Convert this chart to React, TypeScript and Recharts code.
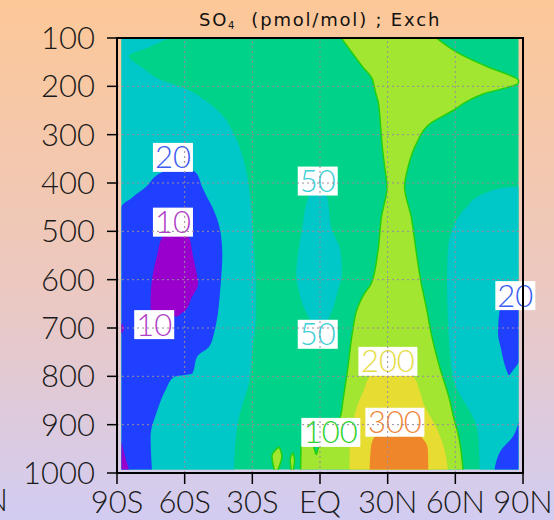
import React from "react";
import {
  ComposedChart,
  Area,
  XAxis,
  YAxis,
  ReferenceLine,
  ReferenceDot,
  ReferenceArea,
} from "recharts";

const FONT = 'Lato, "Liberation Sans", Arial, sans-serif';
const TITLE_FONT = '"DejaVu Sans", "Liberation Sans", sans-serif';

// contour fill colours (SO4 mixing ratio bands)
const PURPLE = "#9a00cc"; // < 10
const BLUE = "#2040ff"; // 10-20
const CYAN = "#00c8c8"; // 20-50
const GREEN = "#00d28a"; // 50-100
const YGREEN = "#a2e632"; // 100-200
const YELLOW = "#e6dc32"; // 200-300
const ORANGE = "#f0862a"; // > 300
const LINE100 = "#22d010";

// axes
const latTicks = [-90, -60, -30, 0, 30, 60, 90];
const latLabels = ["90S", "60S", "30S", "EQ", "30N", "60N", "90N"];
const presTicks = [100, 200, 300, 400, 500, 600, 700, 800, 900, 1000];
const latGrid = [-60, -30, 0, 30, 60];
const presGrid = [200, 300, 400, 500, 600, 700, 800, 900];

// each band: pressure (hPa) rows with west / east edge latitude
const field = [
  { p: 100, w: -88, e: 88 },
  { p: 993, w: -88, e: 88 },
];

const cyanWest = [
  { p: 100, w: -88, e: -67 },
  { p: 119, w: -88, e: -75.8 },
  { p: 137, w: -88, e: -84.7 },
  { p: 161, w: -88, e: -78.8 },
  { p: 188, w: -88, e: -69.9 },
  { p: 205, w: -88, e: -59.6 },
  { p: 230, w: -88, e: -50.7 },
  { p: 264, w: -88, e: -42.6 },
  { p: 299, w: -88, e: -38.1 },
  { p: 368, w: -88, e: -33 },
  { p: 437, w: -88, e: -30.8 },
  { p: 505, w: -88, e: -29.7 },
  { p: 539, w: -88, e: -29.3 },
  { p: 608, w: -88, e: -28.5 },
  { p: 677, w: -88, e: -28.5 },
  { p: 746, w: -88, e: -30 },
  { p: 815, w: -88, e: -31.5 },
  { p: 849, w: -88, e: -33.7 },
  { p: 884, w: -88, e: -35.9 },
  { p: 918, w: -88, e: -37.1 },
  { p: 993, w: -88, e: -38.1 },
];

const blueWest = [
  { p: 366, w: -63, e: -62 },
  { p: 378, w: -70, e: -55.2 },
  { p: 409, w: -77.3, e: -52.2 },
  { p: 430, w: -83.2, e: -50 },
  { p: 450, w: -88, e: -47.7 },
  { p: 505, w: -88, e: -44 },
  { p: 547, w: -88, e: -43.3 },
  { p: 608, w: -88, e: -44 },
  { p: 711, w: -88, e: -47 },
  { p: 739, w: -88, e: -49.2 },
  { p: 759, w: -88, e: -54.4 },
  { p: 794, w: -88, e: -56.6 },
  { p: 801, w: -88, e: -64.7 },
  { p: 828, w: -88, e: -68.4 },
  { p: 870, w: -88, e: -72.1 },
  { p: 925, w: -88, e: -75.1 },
  { p: 993, w: -88, e: -74.5 },
];

const purpleWest = [
  { p: 492, w: -64.5, e: -63.5 },
  { p: 512, w: -70, e: -58 },
  { p: 545, w: -72, e: -56.6 },
  { p: 594, w: -74.3, e: -54.4 },
  { p: 607, w: -74.7, e: -54 },
  { p: 642, w: -75.1, e: -57.4 },
  { p: 660, w: -75.1, e: -59 },
  { p: 668, w: -73, e: -61 },
  { p: 676, w: -66, e: -63 },
];

const purpleEdge = [
  { p: 690, w: -88, e: -88 },
  { p: 700, w: -88, e: -86.8 },
  { p: 712, w: -88, e: -88 },
];

const purpleCorner = [
  { p: 935, w: -88, e: -88 },
  { p: 960, w: -88, e: -86.8 },
  { p: 993, w: -88, e: -84.7 },
];

const cyanEq = [
  { p: 405, w: -2, e: -1 },
  { p: 428, w: -5, e: 3 },
  { p: 497, w: -8, e: 5.3 },
  { p: 539, w: -9.5, e: 9 },
  { p: 587, w: -10.5, e: 9.7 },
  { p: 621, w: -9.5, e: 8 },
  { p: 656, w: -7.3, e: 6 },
  { p: 690, w: -3.5, e: 2.5 },
  { p: 705, w: -1.5, e: -0.5 },
];

const cyanEast = [
  { p: 407, w: 88, e: 88 },
  { p: 409, w: 83, e: 88 },
  { p: 423, w: 72.3, e: 88 },
  { p: 450, w: 64.9, e: 88 },
  { p: 492, w: 59, e: 88 },
  { p: 540, w: 56.7, e: 88 },
  { p: 608, w: 56.3, e: 88 },
  { p: 677, w: 56.7, e: 88 },
  { p: 746, w: 57.5, e: 88 },
  { p: 815, w: 59.7, e: 88 },
  { p: 849, w: 63.4, e: 88 },
  { p: 884, w: 67.8, e: 88 },
  { p: 918, w: 70, e: 88 },
  { p: 993, w: 70.8, e: 88 },
];

const blueEast = [
  { p: 630, w: 86, e: 88 },
  { p: 663, w: 79.6, e: 88 },
  { p: 711, w: 78.9, e: 88 },
  { p: 746, w: 80.4, e: 88 },
  { p: 770, w: 81.5, e: 88 },
  { p: 785, w: 82.5, e: 86 },
  { p: 797, w: 83.5, e: 84 },
];

const blueSE = [
  { p: 894, w: 88, e: 88 },
  { p: 925, w: 85.5, e: 88 },
  { p: 952, w: 80.4, e: 88 },
  { p: 993, w: 77.4, e: 88 },
];

const yGreenMain = [
  { p: 100, w: 9.4, e: 51.6 },
  { p: 133, w: 14.6, e: 62 },
  { p: 161, w: 19.1, e: 75 },
  { p: 181, w: 22.7, e: 86 },
  { p: 187, w: 23.3, e: 88 },
  { p: 192, w: 23.6, e: 88 },
  { p: 216, w: 24.8, e: 72.3 },
  { p: 230, w: 25.7, e: 65.6 },
  { p: 250, w: 26.3, e: 59 },
  { p: 278, w: 26.8, e: 48.6 },
  { p: 319, w: 27.5, e: 42.7 },
  { p: 368, w: 28.7, e: 39 },
  { p: 408, w: 29.7, e: 37.5 },
  { p: 471, w: 27.2, e: 40.5 },
  { p: 540, w: 25.7, e: 42.6 },
  { p: 608, w: 22.7, e: 44.9 },
  { p: 628, w: 19.8, e: 45.8 },
  { p: 656, w: 16.8, e: 47.1 },
  { p: 711, w: 14.3, e: 49.3 },
  { p: 780, w: 12.4, e: 53 },
  { p: 849, w: 10.2, e: 57.5 },
  { p: 884, w: 9, e: 59.2 },
  { p: 918, w: 0, e: 61.2 },
  { p: 946, w: -8.4, e: 62.3 },
  { p: 993, w: -8.6, e: 63.4 },
];

const yGreenSpikeA = [
  { p: 946, w: -18.3, e: -18.1 },
  { p: 965, w: -21.3, e: -16.9 },
  { p: 993, w: -20.3, e: -18.6 },
];

const yGreenSpikeB = [
  { p: 958, w: -12.1, e: -12 },
  { p: 972, w: -13.2, e: -11.3 },
  { p: 993, w: -12.8, e: -11.8 },
];

const greenSliver = [
  { p: 946, w: -2.8, e: -0.6 },
  { p: 955, w: -2.2, e: -1.2 },
  { p: 962, w: -1.7, e: -1.6 },
];

const yellowCore = [
  { p: 770, w: 30, e: 32 },
  { p: 801, w: 22, e: 41.5 },
  { p: 828, w: 19.5, e: 44 },
  { p: 863, w: 16.4, e: 46.5 },
  { p: 900, w: 14.4, e: 51 },
  { p: 952, w: 13.1, e: 55.2 },
  { p: 993, w: 13.1, e: 56.7 },
];

const orangeCore = [
  { p: 895, w: 33, e: 35 },
  { p: 926, w: 24, e: 45 },
  { p: 950, w: 22.5, e: 47.8 },
  { p: 993, w: 22, e: 48 },
];

// contour labels
const labels = [
  { lat: -65.2, p: 347, text: "20", color: "#3a5cf0" },
  { lat: -65.2, p: 481, text: "10", color: "#b040c8" },
  { lat: -73.5, p: 693, text: "10", color: "#b040c8" },
  { lat: -1, p: 396, text: "50", color: "#3ccfd6" },
  { lat: -1, p: 713, text: "50", color: "#3ccfd6" },
  { lat: 30.1, p: 769, text: "200", color: "#e6dc46" },
  { lat: 33.2, p: 895, text: "300", color: "#f0883c" },
  { lat: 4.8, p: 916, text: "100", color: "#2ed22e" },
  { lat: 86.6, p: 633, text: "20", color: "#3a5cf0" },
];

const bands = [
  { data: field, fill: GREEN },
  { data: cyanWest, fill: CYAN },
  { data: blueWest, fill: BLUE },
  { data: purpleWest, fill: PURPLE },
  { data: purpleEdge, fill: PURPLE },
  { data: purpleCorner, fill: PURPLE },
  { data: cyanEq, fill: CYAN },
  { data: cyanEast, fill: CYAN },
  { data: blueEast, fill: BLUE },
  { data: blueSE, fill: BLUE },
  { data: yGreenMain, fill: YGREEN, line: true },
  { data: yGreenSpikeA, fill: YGREEN, line: true },
  { data: yGreenSpikeB, fill: YGREEN, line: true },
  { data: greenSliver, fill: GREEN, line: true },
  { data: yellowCore, fill: YELLOW },
  { data: orangeCore, fill: ORANGE },
];

const edges = (d: { w: number; e: number }) => [d.w, d.e];

function LabelBox(props: any) {
  const { cx, cy, text, color } = props;
  if (cx == null || cy == null) return null;
  const w = text.length === 3 ? 59 : 40;
  return (
    <g>
      <rect x={cx - w / 2} y={cy - 14.5} width={w} height={29} fill="#fff" />
      <text
        x={cx}
        y={cy + 11}
        textAnchor="middle"
        fontSize={31}
        fontFamily={FONT}
        fontWeight={300}
        fill={color}
      >
        {text}
      </text>
    </g>
  );
}

export default function App() {
  const tickStyle = { fontSize: 31, fill: "#1a1a1a", fontFamily: FONT, fontWeight: 300 };
  return (
    <div
      style={{
        position: "fixed",
        left: 0,
        top: 0,
        width: 554,
        height: 520,
        overflow: "hidden",
        background: "linear-gradient(180deg, #fdc898 0%, #ecc8c0 55%, #d2ccf2 100%)",
        fontFamily: FONT,
      }}
    >
      <div
        style={{
          position: "absolute",
          left: 320,
          top: 11,
          transform: "translateX(-50%)",
          whiteSpace: "pre",
          fontFamily: TITLE_FONT,
          fontSize: 18,
          letterSpacing: 1.8,
          lineHeight: "18px",
          color: "#111",
        }}
      >
        SO
        <span style={{ fontSize: 10, position: "relative", top: 3 }}>4</span>
        {"  (pmol/mol) ; Exch"}
      </div>
      <div
        style={{
          position: "absolute",
          left: -62,
          top: 484,
          width: 70,
          textAlign: "right",
          fontSize: 31,
          fontWeight: 300,
          lineHeight: "31px",
          color: "#1a1a1a",
        }}
      >
        90N
      </div>
      <ComposedChart
        width={554}
        height={520}
        layout="vertical"
        margin={{ top: 38, right: 31, bottom: 0, left: 0 }}
      >
        <XAxis
          type="number"
          domain={[-90, 90]}
          ticks={latTicks}
          allowDataOverflow
          tickFormatter={(v) => latLabels[latTicks.indexOf(v)] ?? ""}
          axisLine={false}
          tickLine={{ stroke: "#000", strokeWidth: 1.5 }}
          tickSize={11}
          tickMargin={7}
          height={47}
          interval={0}
          tick={tickStyle}
        />
        <YAxis
          type="number"
          dataKey="p"
          domain={[100, 1000]}
          ticks={presTicks}
          allowDataOverflow
          axisLine={false}
          tickLine={{ stroke: "#000", strokeWidth: 1.5 }}
          tickSize={10}
          tickMargin={12}
          width={117}
          interval={0}
          tick={tickStyle}
        />
        {bands.map((b, i) => (
          <Area
            key={i}
            data={b.data}
            dataKey={edges}
            type="monotone"
            fill={b.fill}
            fillOpacity={1}
            stroke={b.line ? LINE100 : "none"}
            strokeWidth={b.line ? 1.5 : 0}
            dot={false}
            activeDot={false}
            isAnimationActive={false}
          />
        ))}
        {labels.map((l, i) => (
          <ReferenceDot
            key={"l" + i}
            x={l.lat}
            y={l.p}
            ifOverflow="hidden"
            zIndex={110}
            shape={(props: any) => <LabelBox {...props} text={l.text} color={l.color} />}
          />
        ))}
        {latGrid.map((v) => (
          <ReferenceLine
            key={"x" + v}
            x={v}
            stroke="#9a8a9e"
            strokeDasharray="2 3"
            zIndex={120}
          />
        ))}
        {presGrid.map((v) => (
          <ReferenceLine
            key={"y" + v}
            y={v}
            stroke="#9a8a9e"
            strokeDasharray="2 3"
            zIndex={120}
          />
        ))}
        <ReferenceArea
          x1={-90}
          x2={90}
          y1={100}
          y2={1000}
          fill="none"
          stroke="#000"
          strokeWidth={2}
          ifOverflow="visible"
          zIndex={130}
        />
      </ComposedChart>
    </div>
  );
}
